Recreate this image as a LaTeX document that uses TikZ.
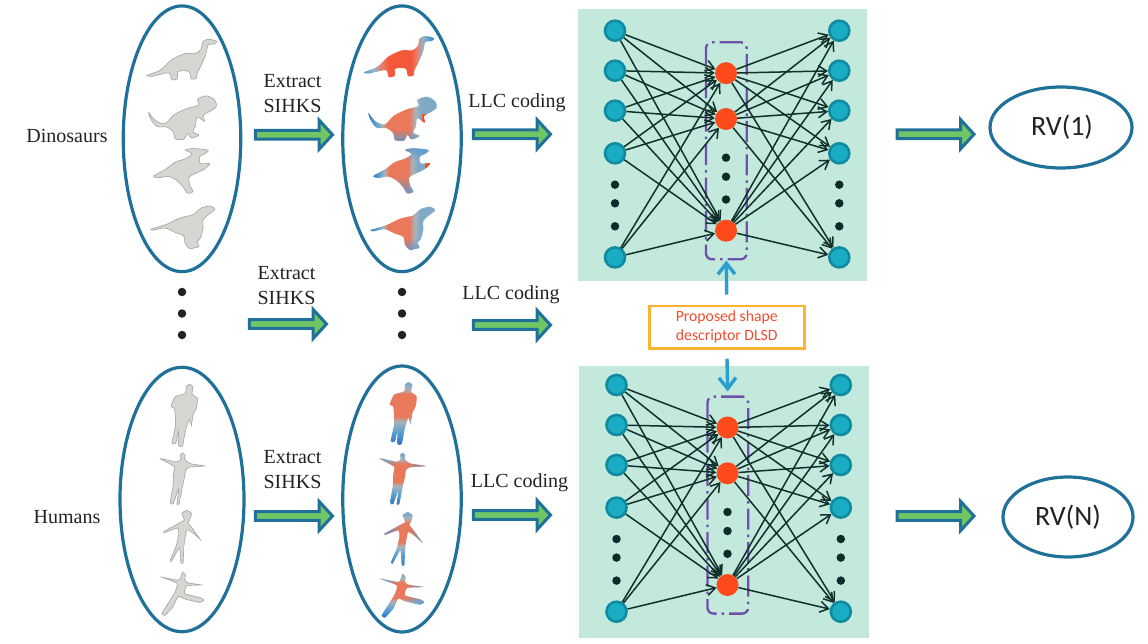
\documentclass[tikz,border=0pt]{standalone}
\usepackage{fontspec}
\setmainfont{Liberation Serif}
\newfontfamily\carl{Carlito}
\usetikzlibrary{arrows.meta,shapes.geometric,shapes.arrows,fadings}
\definecolor{ringblue}{HTML}{1F7199}
\definecolor{bggreen}{HTML}{C3E9DC}
\definecolor{inpfill}{HTML}{1AACC2}
\definecolor{inpline}{HTML}{0F8A9E}
\definecolor{hidfill}{HTML}{FF4A1C}
\definecolor{edgecol}{HTML}{10302A}
\definecolor{purp}{HTML}{7050A8}
\definecolor{arrowblue}{HTML}{2A9FD0}
\definecolor{descline}{HTML}{FDB32F}
\definecolor{desctext}{HTML}{F04E30}
\definecolor{arrgreen}{HTML}{70C664}
\definecolor{txt}{HTML}{222222}
\definecolor{mshell}{HTML}{D6D6D2}
\definecolor{medge}{HTML}{A6A6A2}
\definecolor{tintblue}{HTML}{5A9AD0}
\definecolor{cA}{HTML}{5A9FD0}
\definecolor{cB}{HTML}{8FB4CC}
\definecolor{cC}{HTML}{E9806A}
\definecolor{cD}{HTML}{F4583A}
\definecolor{cE}{HTML}{A8B4BC}
\definecolor{cF}{HTML}{7FAAC6}
\definecolor{cG}{HTML}{2A70C0}
\definecolor{cH}{HTML}{E9795A}
\pgfdeclarehorizontalshading{dinoa}{100bp}{color(0bp)=(cA);color(25bp)=(cA);color(33bp)=(cB);color(38bp)=(cC);color(43bp)=(cD);color(58bp)=(cD);color(62bp)=(cC);color(66bp)=(cB);color(70bp)=(cA);color(75bp)=(cG);color(100bp)=(cG)}
\pgfdeclarehorizontalshading{dinob}{100bp}{color(0bp)=(cG);color(25bp)=(cG);color(31bp)=(cA);color(36bp)=(cE);color(39bp)=(cH);color(55bp)=(cH);color(59bp)=(cE);color(63bp)=(cF);color(75bp)=(cF);color(100bp)=(cF)}
\pgfdeclareverticalshading{humanc}{100bp}{color(0bp)=(cG);color(25bp)=(cG);color(35bp)=(cA);color(43bp)=(cE);color(47bp)=(cH);color(64bp)=(cH);color(68bp)=(cE);color(72bp)=(cF);color(75bp)=(cF);color(100bp)=(cF)}
\tikzset{
  ring/.style={draw=ringblue,line width=3.2pt,ellipse,inner sep=0pt,outer sep=0pt},
  inp/.style={circle,fill=inpfill,draw=inpline,line width=2.6pt,minimum size=20pt,inner sep=0pt},
  hid/.style={circle,fill=hidfill,minimum size=22pt,inner sep=0pt},
  netdot/.style={circle,fill=edgecol!90!black,minimum size=8.5pt,inner sep=0pt},
  middot/.style={circle,fill=txt,minimum size=8.5pt,inner sep=0pt},
  edge/.style={draw=edgecol,line width=1.5pt,-{Straight Barb[length=8.5pt,width=11pt]}},
  hidbox/.style={draw=purp,line width=2.3pt,rounded corners=6pt,rectangle,minimum width=40.7pt,minimum height=217pt,inner sep=0pt,dash pattern=on 21pt off 5pt on 2.5pt off 5pt},
  feed/.style={draw=arrowblue,line width=3.4pt,-{Straight Barb[length=11pt,width=17pt]}},
  blockarrow/.style={single arrow,draw=ringblue,fill=arrgreen,line width=3pt,minimum width=29pt,minimum height=77pt,single arrow head extend=3.5pt,single arrow tip angle=95,inner sep=0pt,outer sep=0pt,anchor=center},
  lab/.style={text=txt,font=\fontsize{20}{25}\selectfont,align=center,inner sep=0pt},
  rvtext/.style={text=txt,font=\carl\fontsize{28}{30}\selectfont,inner sep=0pt},
  grayscope/.style={x=0.33333pt,y=-0.33333pt}
}
% silhouettes, in a frame three times finer than the picture
\def\dinoA{plot[smooth cycle,tension=.5] coordinates {(110,226)(150,210)(185,178)(225,160)(255,160)(272,148)(278,125)(295,117)(322,124)(312,133)(295,135)(288,165)(270,205)(262,220)(260,235)(243,238)(236,215)(205,215)(203,236)(185,240)(178,220)(150,224)(125,230)}}
\def\dinoB{plot[smooth cycle,tension=.5] coordinates {(115,335)(135,360)(165,370)(190,345)(230,325)(265,315)(262,297)(290,287)(315,300)(320,320)(300,335)(282,345)(284,365)(262,352)(258,375)(250,395)(268,405)(245,415)(232,402)(222,419)(195,417)(190,397)(170,382)(140,380)(122,358)}}
\def\dinoC{plot[smooth cycle,tension=.5] coordinates {(130,528)(165,508)(195,486)(225,476)(245,462)(225,450)(250,445)(295,450)(285,462)(270,470)(272,490)(300,490)(285,507)(255,522)(238,532)(240,555)(250,575)(232,580)(218,560)(200,542)(175,530)(145,534)}}
\def\dinoD{plot[smooth cycle,tension=.5] coordinates {(122,687)(170,672)(210,653)(250,643)(270,625)(300,617)(315,628)(295,645)(280,660)(280,685)(272,715)(262,725)(268,740)(250,745)(240,747)(225,732)(220,708)(195,698)(165,685)(130,691)}}
\def\humA{plot[smooth cycle,tension=.35] coordinates {(228,80)(238,72)(250,80)(247,102)(263,115)(260,145)(250,165)(245,200)(238,180)(228,210)(218,258)(205,258)(205,220)(198,250)(185,250)(195,200)(195,170)(192,145)(182,140)(195,110)(225,100)}}
\def\humB{plot[smooth cycle,tension=.3] coordinates {(148,295)(200,305)(212,297)(210,285)(218,278)(226,285)(225,298)(240,310)(288,318)(240,322)(228,330)(225,350)(218,380)(208,432)(200,432)(205,390)(190,432)(180,428)(188,380)(190,340)(192,320)}}
\def\humC{plot[smooth cycle,tension=.3] coordinates {(215,460)(230,450)(245,460)(240,480)(235,488)(248,505)(275,543)(255,525)(232,510)(225,540)(222,570)(220,610)(212,608)(208,565)(185,605)(180,600)(197,560)(205,525)(202,505)(165,518)(160,515)(205,490)(222,480)}}
\def\humD{plot[smooth cycle,tension=.3] coordinates {(150,650)(205,660)(212,650)(218,635)(227,645)(225,660)(235,668)(280,675)(232,678)(225,700)(270,712)(283,720)(270,728)(225,718)(205,710)(190,740)(165,767)(155,760)(180,720)(195,695)(200,670)}}
% #1 outline
\newcommand{\grayfig}[1]{\begin{scope}\clip #1;\fill[mshell] #1;\draw[medge,line width=1.2pt] #1;\end{scope}}
% #1 outline, #2 shading, #3..#6 bounding box, #7 extra tints
\newcommand{\colfig}[7]{\begin{scope}\clip #1;\shade[shading=#2] (#3,#4) rectangle (#5,#6);#7\end{scope}}
% #1..#4 rectangle, #5 side towards which the tint fades out
\newcommand{\tint}[5]{\fill[tintblue,path fading=#5,fading transform={rotate=0}] (#1,#2) rectangle (#3,#4);}
% #1 node prefix
\newcommand{\network}[1]{%
  \node[hidbox] (#1B) at (726.3,150.8) {};
  \foreach \i/\y in {1/30.7,2/70.7,3/110.7,4/153.3,5/257.4}{
    \node[inp] (#1L\i) at (615,\y) {};
    \node[inp] (#1R\i) at (839.3,\y) {};
  }
  \foreach \h/\y in {1/73.2,2/119,3/230.7}{\node[hid] (#1H\h) at (726,\y) {};}
  \foreach \k/\y in {1/157.7,2/176.7,3/199.5}{\node[netdot] (#1M\k) at (726,\y) {};}
  \foreach \k/\y in {1/184.7,2/203.3,3/226.3}{
    \node[netdot] (#1P\k) at (615,\y) {};
    \node[netdot] (#1Q\k) at (839.3,\y) {};
  }
  \foreach \i in {1,...,5}{\foreach \h in {1,2,3}{
    \draw[edge] (#1L\i) -- (#1H\h);
    \draw[edge] (#1H\h) -- (#1R\i);
  }}
}
\begin{document}
\begin{tikzpicture}[x=1pt,y=-1pt]
\useasboundingbox (0,0) rectangle (1148,644);
% panels
\fill[bggreen] (578,9) rectangle (867.3,280.7);
\fill[bggreen] (579.3,366) rectangle (869.3,637.7);
% rings
\node[ring,minimum width=117.5pt,minimum height=265.7pt] (e1) at (182,138.8) {};
\node[ring,minimum width=118.5pt,minimum height=265.7pt] (e2) at (402,138.8) {};
\node[ring,minimum width=124pt,minimum height=264.4pt] (e3) at (182,499.5) {};
\node[ring,minimum width=118.5pt,minimum height=266pt] (e4) at (402,499) {};
% plain dinosaurs and humans
\begin{scope}[grayscope,shift={(110pt,0pt)}]
  \grayfig{\dinoA}
  \grayfig{\dinoB}
  \grayfig{\dinoC}
  \grayfig{\dinoD}
\end{scope}
\begin{scope}[grayscope,shift={(110pt,-360pt)}]
  \grayfig{\humA}
  \grayfig{\humB}
  \grayfig{\humC}
  \grayfig{\humD}
\end{scope}
% coloured dinosaurs
\begin{scope}[grayscope,shift={(327pt,3pt)}]
  \colfig{\dinoA}{dinoa}{105}{110}{327}{245}{}
\end{scope}
\begin{scope}[grayscope,shift={(330pt,-1pt)}]
  \colfig{\dinoB}{dinob}{110}{280}{325}{420}{\tint{100}{385}{400}{425}{north}\fill[hidfill] (275,340) rectangle (290,368);}
\end{scope}
\begin{scope}[grayscope,shift={(330pt,0pt)}]
  \colfig{\dinoC}{dinob}{125}{440}{305}{585}{\tint{100}{440}{400}{480}{south}\tint{100}{530}{400}{590}{north}\fill[hidfill] (285,488) rectangle (305,505);}
\end{scope}
\begin{scope}[grayscope,shift={(330pt,-1pt)}]
  \colfig{\dinoD}{dinob}{115}{610}{320}{750}{\tint{100}{710}{400}{755}{north}}
\end{scope}
% coloured humans
\begin{scope}[grayscope,shift={(329pt,-358pt)}]
  \colfig{\humA}{humanc}{170}{65}{270}{262}{}
\end{scope}
\begin{scope}[grayscope,shift={(330pt,-360pt)}]
  \colfig{\humB}{humanc}{140}{275}{295}{436}{\tint{140}{285}{200}{330}{east}\tint{230}{300}{295}{330}{west}}
\end{scope}
\begin{scope}[grayscope,shift={(331pt,-362pt)}]
  \colfig{\humC}{humanc}{155}{445}{280}{615}{\tint{155}{490}{210}{525}{east}\tint{232}{490}{280}{550}{west}}
\end{scope}
\begin{scope}[grayscope,shift={(330pt,-362pt)}]
  \colfig{\humD}{humanc}{145}{630}{290}{770}{\tint{145}{640}{205}{680}{east}\tint{225}{660}{290}{690}{west}\tint{225}{695}{290}{735}{west}}
\end{scope}
% middle dots
\foreach \x/\n in {182/a,402/b}{
  \foreach \y/\k in {292/1,313.5/2,335/3}{\node[middot] (dot\n\k) at (\x,\y) {};}
}
% networks
\network{u}
\begin{scope}[shift={(1.5pt,-354.3pt)}]
  \network{v}
\end{scope}
% descriptor
\node[draw=descline,line width=2.8pt,fill=white,minimum width=155pt,minimum height=42.3pt,inner sep=0pt,align=center,text=desctext,font=\carl\fontsize{15.7}{19}\selectfont] (desc) at (726.8,327.2) {Proposed shape\\descriptor DLSD};
\draw[feed,shorten <=10pt] (desc.north) -- (uB.south);
\draw[feed,shorten <=9pt,shorten >=4pt] (desc.south) -- (vB.north);
% block arrows
\node[blockarrow] (a1) at (292,134.7) {};
\node[blockarrow] (a2) at (510,134.3) {};
\node[blockarrow] (a3) at (933.5,134.3) {};
\node[blockarrow] (a4) at (286,324) {};
\node[blockarrow] (a5) at (510,325) {};
\node[blockarrow] (a6) at (292,516) {};
\node[blockarrow] (a7) at (510,515) {};
\node[blockarrow] (a8) at (933.5,516) {};
% result rings
\node[ring,minimum width=142pt,minimum height=81pt] (rv1) at (1061,127.5) {};
\node[rvtext] (rv1t) at (1062,127) {RV(1)};
\node[ring,minimum width=130pt,minimum height=80pt] (rvn) at (1068,517) {};
\node[rvtext] (rvnt) at (1068,517) {RV(N)};
% labels
\node[lab] (l1) at (67,135.5) {Dinosaurs};
\node[lab] (l2) at (67,517.5) {Humans};
\node[lab] (x1) at (292.5,94) {Extract\\SIHKS};
\node[lab] (x2) at (286.5,285.5) {Extract\\SIHKS};
\node[lab] (x3) at (292.5,470) {Extract\\SIHKS};
\node[lab] (c1) at (517,103) {LLC coding};
\node[lab] (c2) at (511,295) {LLC coding};
\node[lab] (c3) at (519.5,483) {LLC coding};
\end{tikzpicture}
\end{document}
